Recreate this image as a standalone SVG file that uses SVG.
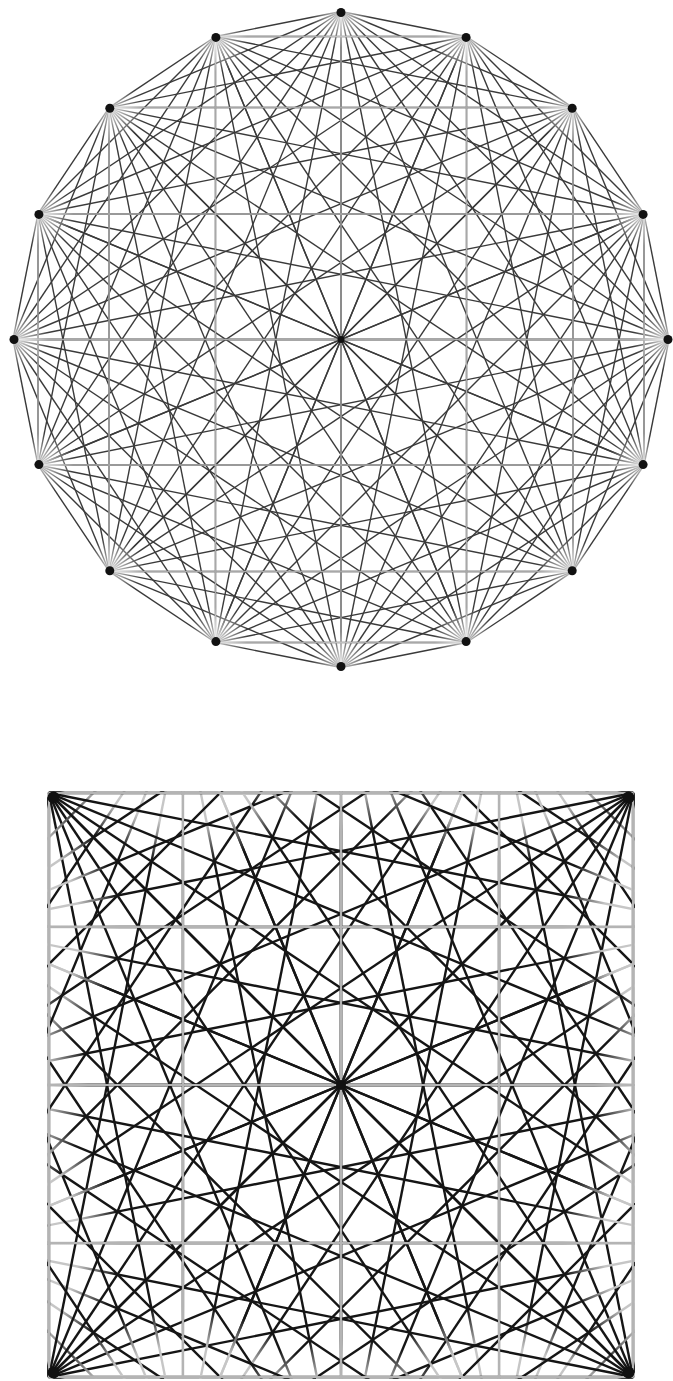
<svg xmlns="http://www.w3.org/2000/svg" width="673" height="1381" viewBox="0 0 673 1381">
<style>
.ft{stroke:#3a3a3a;stroke-width:1.4;fill:none}
.fth{stroke:#a8a8a8;stroke-width:1.4;fill:none}
.fb{stroke-width:2.4;fill:none}
.fbh{stroke:#b4b4b4;stroke-width:2.2;fill:none}
.lt{stroke:#c6c6c6}
.dk{stroke:#151515}
.l{stop-color:#c6c6c6}
.d{stop-color:#151515}
.dot{fill:#111}
</style>
<defs>
<g id="fanT" class="ft">
<line x1="0" y1="-328" x2="125.52" y2="-303.03"/>
<line x1="0" y1="-328" x2="231.93" y2="-231.93"/>
<line x1="0" y1="-328" x2="303.03" y2="-125.52"/>
<line x1="0" y1="-328" x2="328" y2="0"/>
<line x1="0" y1="-328" x2="303.03" y2="125.52"/>
<line x1="0" y1="-328" x2="231.93" y2="231.93"/>
<line x1="0" y1="-328" x2="125.52" y2="303.03"/>
<line x1="0" y1="-328" x2="0" y2="328"/>
</g>
<g id="hvT" class="fth">
<line x1="0" y1="-328" x2="0" y2="328"/>
<line x1="125.52" y1="-303.03" x2="125.52" y2="303.03"/>
<line x1="-125.52" y1="-303.03" x2="-125.52" y2="303.03"/>
<line x1="231.93" y1="-231.93" x2="231.93" y2="231.93"/>
<line x1="-231.93" y1="-231.93" x2="-231.93" y2="231.93"/>
<line x1="303.03" y1="-125.52" x2="303.03" y2="125.52"/>
<line x1="-303.03" y1="-125.52" x2="-303.03" y2="125.52"/>
</g>

<linearGradient id="gA2" gradientUnits="userSpaceOnUse" x1="0" y1="-413" x2="292.03" y2="-292.03"><stop offset="0" class="l"/><stop offset="0.38" class="l"/><stop offset="0.506" class="d"/><stop offset="1" class="d"/></linearGradient>
<linearGradient id="gB2" gradientUnits="userSpaceOnUse" x1="0" y1="-413" x2="292.03" y2="-292.03"><stop offset="0" class="d"/><stop offset="0.494" class="d"/><stop offset="0.62" class="l"/><stop offset="1" class="l"/></linearGradient>
<linearGradient id="gAB2" gradientUnits="userSpaceOnUse" x1="0" y1="-413" x2="292.03" y2="-292.03"><stop offset="0" class="l"/><stop offset="0.38" class="l"/><stop offset="0.5" stop-color="#444"/><stop offset="0.62" class="l"/><stop offset="1" class="l"/></linearGradient>

<linearGradient id="gA3" gradientUnits="userSpaceOnUse" x1="0" y1="-413" x2="381.56" y2="-158.05"><stop offset="0" class="l"/><stop offset="0.2615" class="l"/><stop offset="0.3487" class="d"/><stop offset="1" class="d"/></linearGradient>
<linearGradient id="gB3" gradientUnits="userSpaceOnUse" x1="0" y1="-413" x2="381.56" y2="-158.05"><stop offset="0" class="d"/><stop offset="0.6513" class="d"/><stop offset="0.7385" class="l"/><stop offset="1" class="l"/></linearGradient>
<linearGradient id="gAB3" gradientUnits="userSpaceOnUse" x1="0" y1="-413" x2="381.56" y2="-158.05"><stop offset="0" class="l"/><stop offset="0.2615" class="l"/><stop offset="0.3487" class="d"/><stop offset="0.6513" class="d"/><stop offset="0.7385" class="l"/><stop offset="1" class="l"/></linearGradient>

<linearGradient id="gAB4" gradientUnits="userSpaceOnUse" x1="0" y1="-413" x2="413" y2="0"><stop offset="0" class="l"/><stop offset="0.2054" class="l"/><stop offset="0.2739" class="d"/><stop offset="0.7261" class="d"/><stop offset="0.7946" class="l"/><stop offset="1" class="l"/></linearGradient>

<linearGradient id="gA5" gradientUnits="userSpaceOnUse" x1="0" y1="-413" x2="381.56" y2="158.05"><stop offset="0" class="l"/><stop offset="0.1747" class="l"/><stop offset="0.233" class="d"/><stop offset="1" class="d"/></linearGradient>
<linearGradient id="gB5" gradientUnits="userSpaceOnUse" x1="0" y1="-413" x2="381.56" y2="158.05"><stop offset="0" class="d"/><stop offset="0.767" class="d"/><stop offset="0.8253" class="l"/><stop offset="1" class="l"/></linearGradient>
<linearGradient id="gAB5" gradientUnits="userSpaceOnUse" x1="0" y1="-413" x2="381.56" y2="158.05"><stop offset="0" class="l"/><stop offset="0.1747" class="l"/><stop offset="0.233" class="d"/><stop offset="0.767" class="d"/><stop offset="0.8253" class="l"/><stop offset="1" class="l"/></linearGradient>

<linearGradient id="gA6" gradientUnits="userSpaceOnUse" x1="0" y1="-413" x2="292.03" y2="292.03"><stop offset="0" class="l"/><stop offset="0.1573" class="l"/><stop offset="0.2097" class="d"/><stop offset="1" class="d"/></linearGradient>
<linearGradient id="gB6" gradientUnits="userSpaceOnUse" x1="0" y1="-413" x2="292.03" y2="292.03"><stop offset="0" class="d"/><stop offset="0.7903" class="d"/><stop offset="0.8427" class="l"/><stop offset="1" class="l"/></linearGradient>
<linearGradient id="gAB6" gradientUnits="userSpaceOnUse" x1="0" y1="-413" x2="292.03" y2="292.03"><stop offset="0" class="l"/><stop offset="0.1573" class="l"/><stop offset="0.2097" class="d"/><stop offset="0.7903" class="d"/><stop offset="0.8427" class="l"/><stop offset="1" class="l"/></linearGradient>

<linearGradient id="gA7" gradientUnits="userSpaceOnUse" x1="0" y1="-413" x2="158.05" y2="381.56"><stop offset="0" class="l"/><stop offset="0.1481" class="l"/><stop offset="0.1975" class="d"/><stop offset="1" class="d"/></linearGradient>
<linearGradient id="gB7" gradientUnits="userSpaceOnUse" x1="0" y1="-413" x2="158.05" y2="381.56"><stop offset="0" class="d"/><stop offset="0.8025" class="d"/><stop offset="0.8519" class="l"/><stop offset="1" class="l"/></linearGradient>
<linearGradient id="gAB7" gradientUnits="userSpaceOnUse" x1="0" y1="-413" x2="158.05" y2="381.56"><stop offset="0" class="l"/><stop offset="0.1481" class="l"/><stop offset="0.1975" class="d"/><stop offset="0.8025" class="d"/><stop offset="0.8519" class="l"/><stop offset="1" class="l"/></linearGradient>

<linearGradient id="gAB8" gradientUnits="userSpaceOnUse" x1="0" y1="-413" x2="0" y2="413"><stop offset="0" class="l"/><stop offset="0.1453" class="l"/><stop offset="0.1937" class="d"/><stop offset="0.8063" class="d"/><stop offset="0.8547" class="l"/><stop offset="1" class="l"/></linearGradient>

<g id="fanB0" class="fb">
<line class="lt" x1="0" y1="-413" x2="158.05" y2="-381.56"/>
<line stroke="url(#gA2)" x1="0" y1="-413" x2="292.03" y2="-292.03"/>
<line stroke="url(#gAB3)" x1="0" y1="-413" x2="381.56" y2="-158.05"/>
<line stroke="url(#gAB4)" x1="0" y1="-413" x2="413" y2="0"/>
<line stroke="url(#gAB5)" x1="0" y1="-413" x2="381.56" y2="158.05"/>
<line stroke="url(#gA6)" x1="0" y1="-413" x2="292.03" y2="292.03"/>
<line stroke="url(#gAB7)" x1="0" y1="-413" x2="158.05" y2="381.56"/>
<line stroke="url(#gAB8)" x1="0" y1="-413" x2="0" y2="413"/>
</g>
<g id="fanB1" class="fb">
<line class="lt" x1="0" y1="-413" x2="158.05" y2="-381.56"/>
<line stroke="url(#gAB2)" x1="0" y1="-413" x2="292.03" y2="-292.03"/>
<line stroke="url(#gAB3)" x1="0" y1="-413" x2="381.56" y2="-158.05"/>
<line stroke="url(#gAB4)" x1="0" y1="-413" x2="413" y2="0"/>
<line stroke="url(#gA5)" x1="0" y1="-413" x2="381.56" y2="158.05"/>
<line stroke="url(#gAB6)" x1="0" y1="-413" x2="292.03" y2="292.03"/>
<line stroke="url(#gAB7)" x1="0" y1="-413" x2="158.05" y2="381.56"/>
<line stroke="url(#gAB8)" x1="0" y1="-413" x2="0" y2="413"/>
</g>
<g id="fanB2" class="fb">
<line class="lt" x1="0" y1="-413" x2="158.05" y2="-381.56"/>
<line stroke="url(#gB2)" x1="0" y1="-413" x2="292.03" y2="-292.03"/>
<line stroke="url(#gB3)" x1="0" y1="-413" x2="381.56" y2="-158.05"/>
<line class="dk" x1="0" y1="-413" x2="413" y2="0"/>
<line stroke="url(#gB5)" x1="0" y1="-413" x2="381.56" y2="158.05"/>
<line stroke="url(#gB6)" x1="0" y1="-413" x2="292.03" y2="292.03"/>
<line stroke="url(#gB7)" x1="0" y1="-413" x2="158.05" y2="381.56"/>
<line class="dk" x1="0" y1="-413" x2="0" y2="413"/>
</g>
<g id="fanB3" class="fb">
<line class="lt" x1="0" y1="-413" x2="158.05" y2="-381.56"/>
<line stroke="url(#gAB2)" x1="0" y1="-413" x2="292.03" y2="-292.03"/>
<line stroke="url(#gA3)" x1="0" y1="-413" x2="381.56" y2="-158.05"/>
<line stroke="url(#gAB4)" x1="0" y1="-413" x2="413" y2="0"/>
<line stroke="url(#gAB5)" x1="0" y1="-413" x2="381.56" y2="158.05"/>
<line stroke="url(#gAB6)" x1="0" y1="-413" x2="292.03" y2="292.03"/>
<line stroke="url(#gA7)" x1="0" y1="-413" x2="158.05" y2="381.56"/>
<line stroke="url(#gAB8)" x1="0" y1="-413" x2="0" y2="413"/>
</g>
<g id="hvB" class="fbh">
<line x1="0" y1="-413" x2="0" y2="413"/>
<line x1="158.05" y1="-381.56" x2="158.05" y2="381.56"/>
<line x1="-158.05" y1="-381.56" x2="-158.05" y2="381.56"/>
<line x1="292.03" y1="-292.03" x2="292.03" y2="292.03"/>
<line x1="-292.03" y1="-292.03" x2="-292.03" y2="292.03"/>
</g>
<radialGradient id="halo">
<stop offset="0" stop-color="#fff" stop-opacity="0.8"/>
<stop offset="1" stop-color="#fff" stop-opacity="0"/>
</radialGradient>
<circle id="haloT" cx="0" cy="-322" r="30" fill="url(#halo)"/>
<clipPath id="sq"><rect x="47" y="791" width="588" height="588"/></clipPath>
</defs>

<g id="connectors">
<g id="top-chords" transform="translate(341 339.5)">
<use href="#fanT"/>
<use href="#fanT" transform="rotate(22.5)"/>
<use href="#fanT" transform="rotate(45)"/>
<use href="#fanT" transform="rotate(67.5)"/>
<use href="#fanT" transform="rotate(90)"/>
<use href="#fanT" transform="rotate(112.5)"/>
<use href="#fanT" transform="rotate(135)"/>
<use href="#fanT" transform="rotate(157.5)"/>
<use href="#fanT" transform="rotate(180)"/>
<use href="#fanT" transform="rotate(202.5)"/>
<use href="#fanT" transform="rotate(225)"/>
<use href="#fanT" transform="rotate(247.5)"/>
<use href="#fanT" transform="rotate(270)"/>
<use href="#fanT" transform="rotate(292.5)"/>
<use href="#fanT" transform="rotate(315)"/>
<use href="#fanT" transform="rotate(337.5)"/>
<use href="#hvT"/>
<use href="#hvT" transform="rotate(90)"/>
<use href="#haloT"/>
<use href="#haloT" transform="rotate(22.5)"/>
<use href="#haloT" transform="rotate(45)"/>
<use href="#haloT" transform="rotate(67.5)"/>
<use href="#haloT" transform="rotate(90)"/>
<use href="#haloT" transform="rotate(112.5)"/>
<use href="#haloT" transform="rotate(135)"/>
<use href="#haloT" transform="rotate(157.5)"/>
<use href="#haloT" transform="rotate(180)"/>
<use href="#haloT" transform="rotate(202.5)"/>
<use href="#haloT" transform="rotate(225)"/>
<use href="#haloT" transform="rotate(247.5)"/>
<use href="#haloT" transform="rotate(270)"/>
<use href="#haloT" transform="rotate(292.5)"/>
<use href="#haloT" transform="rotate(315)"/>
<use href="#haloT" transform="rotate(337.5)"/>
</g>
<g id="square-chords" clip-path="url(#sq)">
<g transform="translate(341 1085)">
<use href="#hvB"/>
<use href="#hvB" transform="rotate(90)"/>
<use href="#fanB0"/>
<use href="#fanB1" transform="rotate(22.5)"/>
<use href="#fanB2" transform="rotate(45)"/>
<use href="#fanB3" transform="rotate(67.5)"/>
<use href="#fanB0" transform="rotate(90)"/>
<use href="#fanB1" transform="rotate(112.5)"/>
<use href="#fanB2" transform="rotate(135)"/>
<use href="#fanB3" transform="rotate(157.5)"/>
<use href="#fanB0" transform="rotate(180)"/>
<use href="#fanB1" transform="rotate(202.5)"/>
<use href="#fanB2" transform="rotate(225)"/>
<use href="#fanB3" transform="rotate(247.5)"/>
<use href="#fanB0" transform="rotate(270)"/>
<use href="#fanB1" transform="rotate(292.5)"/>
<use href="#fanB2" transform="rotate(315)"/>
<use href="#fanB3" transform="rotate(337.5)"/>
<use href="#hvB"/>
<use href="#hvB" transform="rotate(90)"/>
</g>
</g>
</g>

<g id="top-v0"><circle class="dot" cx="341" cy="12.5" r="4.5"/></g>
<g id="top-v1"><circle class="dot" cx="466.1" cy="37.4" r="4.5"/></g>
<g id="top-v2"><circle class="dot" cx="572.2" cy="108.3" r="4.5"/></g>
<g id="top-v3"><circle class="dot" cx="643.1" cy="214.4" r="4.5"/></g>
<g id="top-v4"><circle class="dot" cx="668" cy="339.5" r="4.5"/></g>
<g id="top-v5"><circle class="dot" cx="643.1" cy="464.6" r="4.5"/></g>
<g id="top-v6"><circle class="dot" cx="572.2" cy="570.7" r="4.5"/></g>
<g id="top-v7"><circle class="dot" cx="466.1" cy="641.6" r="4.5"/></g>
<g id="top-v8"><circle class="dot" cx="341" cy="666.5" r="4.5"/></g>
<g id="top-v9"><circle class="dot" cx="215.9" cy="641.6" r="4.5"/></g>
<g id="top-v10"><circle class="dot" cx="109.8" cy="570.7" r="4.5"/></g>
<g id="top-v11"><circle class="dot" cx="38.9" cy="464.6" r="4.5"/></g>
<g id="top-v12"><circle class="dot" cx="14" cy="339.5" r="4.5"/></g>
<g id="top-v13"><circle class="dot" cx="38.9" cy="214.4" r="4.5"/></g>
<g id="top-v14"><circle class="dot" cx="109.8" cy="108.3" r="4.5"/></g>
<g id="top-v15"><circle class="dot" cx="215.9" cy="37.4" r="4.5"/></g>
<g id="top-center"><circle class="dot" cx="341" cy="339.5" r="3.5"/></g>

<g id="sq-tl"><circle class="dot" cx="53.5" cy="797.5" r="6"/></g>
<g id="sq-tr"><circle class="dot" cx="628.5" cy="797.5" r="6"/></g>
<g id="sq-bl"><circle class="dot" cx="53.5" cy="1372.5" r="6"/></g>
<g id="sq-br"><circle class="dot" cx="628.5" cy="1372.5" r="6"/></g>
<g id="sq-center"><circle class="dot" cx="341" cy="1085" r="5"/></g>
</svg>
